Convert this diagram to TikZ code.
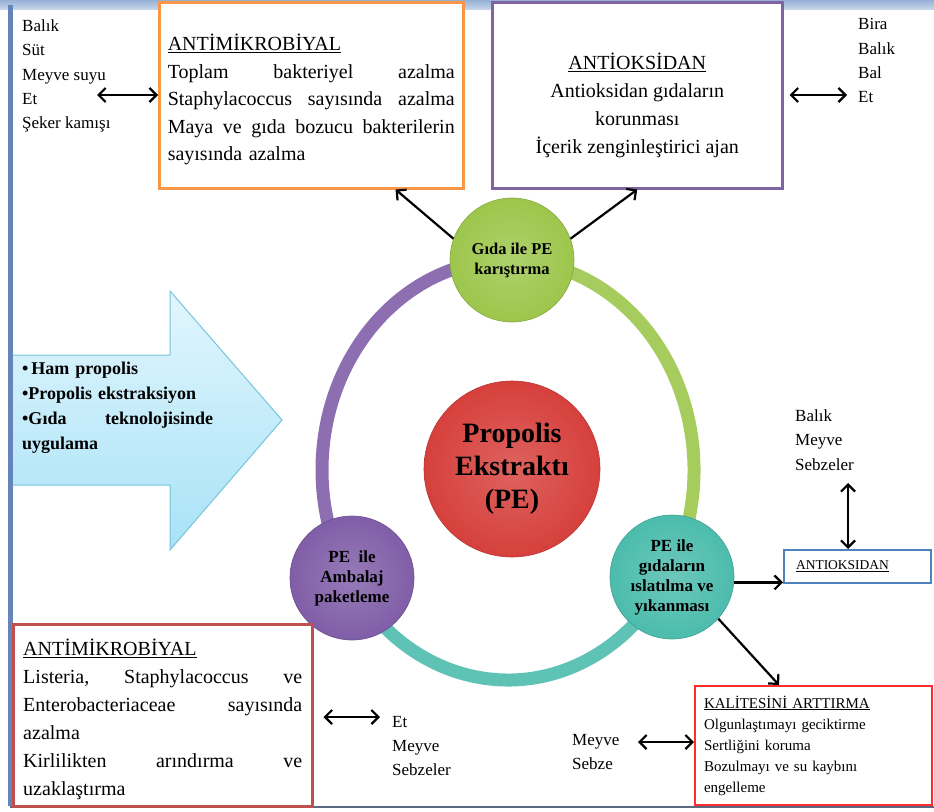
\documentclass[tikz,border=0pt]{standalone}
\usepackage{fontspec}
\setmainfont{Liberation Serif}
\usetikzlibrary{arrows.meta}
\usetikzlibrary{calc}

\definecolor{framet}{RGB}{150,176,214}
\definecolor{framel}{RGB}{100,132,186}
\definecolor{frameb}{RGB}{90,104,128}
\definecolor{arrowt}{RGB}{226,246,253}
\definecolor{arrowbot}{RGB}{168,226,247}
\definecolor{arrowd}{RGB}{120,196,218}
\definecolor{greenc}{RGB}{157,198,76}
\definecolor{purplec}{RGB}{128,94,168}
\definecolor{tealc}{RGB}{76,188,172}
\definecolor{redc}{RGB}{214,64,60}
\definecolor{orangeb}{RGB}{247,150,70}
\definecolor{purpleb}{RGB}{128,100,162}
\definecolor{blueb}{RGB}{79,129,189}
\definecolor{redb}{RGB}{192,80,77}
\definecolor{redq}{RGB}{255,45,45}

% a line spread out to a given width (words split by \hfill)
\newcommand{\fullline}[2]{\leavevmode\hbox to #1{#2}}

\tikzset{
  arr/.style={-{Straight Barb[length=7pt,width=14pt]}, line width=2.2pt},
  dbl/.style={{Straight Barb[length=7pt,width=14pt]}-{Straight Barb[length=7pt,width=14pt]}, line width=2.2pt},
}

\begin{document}
\begin{tikzpicture}[x=1pt,y=1pt,
  box/.style={draw, line width=2.5pt, fill=white, anchor=north west, inner ysep=0pt},
  foods/.style={anchor=north west, inner sep=0pt, align=left, font=\fontsize{17}{24.3}\selectfont},
  stage/.style={circle, inner sep=0pt, minimum size=124, align=center, draw=#1!85!black, line width=0.6pt,
    inner color=#1!82!white, outer color=#1, font=\bfseries\fontsize{17}{20}\selectfont},
  ring/.style={line width=13pt}]
  \useasboundingbox (0,0) rectangle (934,-811);

  % frame
  \shade[top color=framet, bottom color=framet!55!white] (0,0) rectangle (934,-9);

  % arrow on the left
  \path[draw=arrowd, line width=1pt, top color=arrowt, bottom color=arrowbot]
    (12,-355) -- (170,-355) -- (170,-291) -- (282,-420) -- (170,-550) -- (170,-485) -- (12,-485) -- cycle;
  \node[anchor=north west, inner sep=0pt, text width=191, align=left,
    font=\bfseries\fontsize{18}{25}\selectfont] (steps) at (22,-362)
    {•\,Ham propolis\\•Propolis ekstraksiyon\\\fullline{191pt}{•Gıda\hfill teknolojisinde}\\uygulama};

  \fill[framel] (8,-5) rectangle (13,-806);
  \draw[frameb, line width=2pt] (10,-807) -- (934,-807);

  % ring
  \draw[ring, purplec!90!white] (508,-470) ++(90:186 and 210) arc[start angle=90, end angle=211, x radius=186, y radius=210];
  \draw[ring, tealc!90!white] (508,-470) ++(211:186 and 210) arc[start angle=211, end angle=330, x radius=186, y radius=210];
  \draw[ring, greenc!90!white] (508,-470) ++(-30:186 and 210) arc[start angle=-30, end angle=90, x radius=186, y radius=210];

  % circles
  \node[stage=redc, minimum size=176, font=\bfseries\fontsize{28}{33}\selectfont] (pe) at (512,-469) {Propolis\\Ekstraktı\\(PE)};
  \node[stage=greenc, font=\bfseries\fontsize{16.5}{20}\selectfont] (mix) at (512,-260) {Gıda ile PE\\karıştırma};
  \node[stage=purplec] (pack) at (352,-578) {PE~ ile\\Ambalaj\\paketleme};
  \node[stage=tealc] (wash) at (672,-577) {PE ile\\gıdaların\\ıslatılma ve\\yıkanması};

  % boxes
  \node[box, draw=orangeb, minimum width=304, minimum height=186, text width=287, inner xsep=8.5pt,
    align=left, font=\fontsize{20}{27.5}\selectfont] (antimik) at (158,-1)
    {\rule{0pt}{25pt}\underline{ANTİMİKROBİYAL}\\\fullline{287pt}{Toplam\hfill bakteriyel\hfill azalma}\\
     \fullline{287pt}{Staphylacoccus\hfill sayısında\hfill azalma}\\
     \fullline{287pt}{Maya\hfill ve\hfill gıda\hfill bozucu\hfill bakterilerin}\\
     sayısında azalma};
  \node[box, draw=purpleb, minimum width=290, minimum height=186, align=center,
    font=\fontsize{20}{28}\selectfont] (antiok) at (491,-1)
    {\rule{0pt}{37pt}\underline{ANTİOKSİDAN}\\Antioksidan gıdaların\\korunması\\İçerik zenginleştirici ajan};
  \node[box, draw=redb, minimum width=299, minimum height=182, text width=279, inner xsep=10pt,
    align=left, font=\fontsize{20}{28}\selectfont] (antimikB) at (12,-623)
    {\rule{0pt}{25pt}\underline{ANTİMİKROBİYAL}\\\fullline{279pt}{Listeria,\hfill Staphylacoccus\hfill ve}\\
     \fullline{279pt}{Enterobacteriaceae\hfill sayısında}\\azalma\\
     \fullline{279pt}{Kirlilikten\hfill arındırma\hfill ve}\\uzaklaştırma};
  \node[box, draw=redq, line width=2pt, minimum width=237, minimum height=119, text width=219, inner xsep=9pt,
    align=left, font=\fontsize{15}{21}\selectfont] (quality) at (694,-685)
    {\underline{KALİTESİNİ ARTTIRMA}\\Olgunlaştımayı geciktirme\\Sertliğini koruma\\Bozulmayı ve su kaybını\\engelleme};
  \node[box, draw=blueb, line width=2pt, minimum width=147, minimum height=33, text width=123, inner xsep=12pt,
    align=left, font=\fontsize{13.5}{16}\selectfont] (antiokB) at (783,-549) {\underline{ANTIOKSIDAN}};

  % food lists
  \node[foods] (foodsA) at (22,-19.5) {Balık\\Süt\\Meyve suyu\\Et\\Şeker kamışı};
  \node[foods] (foodsB) at (858,-18.5) {Bira\\Balık\\Bal\\Et};
  \node[foods] (foodsC) at (795,-409.5) {Balık\\Meyve\\Sebzeler};
  \node[foods] (foodsD) at (572,-733.7) {Meyve\\Sebze};
  \node[foods] (foodsE) at (392,-715.7) {Et\\Meyve\\Sebzeler};

  % connectors
  \coordinate (aL) at (97,-95);
  \draw[dbl] (aL) -- (aL -| antimik.west);
  \coordinate (aR) at (847,-95);
  \draw[dbl] ([xshift=6pt]aR -| antiok.east) -- (aR);
  \draw[arr] (mix.160) -- ($(antimik.south west)!0.775!(antimik.south east)$);
  \draw[arr] (mix.20) -- (antiok.south);
  \coordinate (vA) at (848,-483);
  \draw[dbl] (vA) -- (vA |- antiokB.north);
  \draw[arr] (wash.-5) -- (wash.-5 -| antiokB.west);
  \draw[arr] (wash.-42) -- ([xshift=85pt]quality.north west);
  \coordinate (qL) at (638,-742);
  \draw[dbl] (qL) -- (qL -| quality.west);
  \coordinate (bR) at (380,-717);
  \draw[dbl] ([xshift=10pt]antimikB.east |- bR) -- (bR);
\end{tikzpicture}
\end{document}
